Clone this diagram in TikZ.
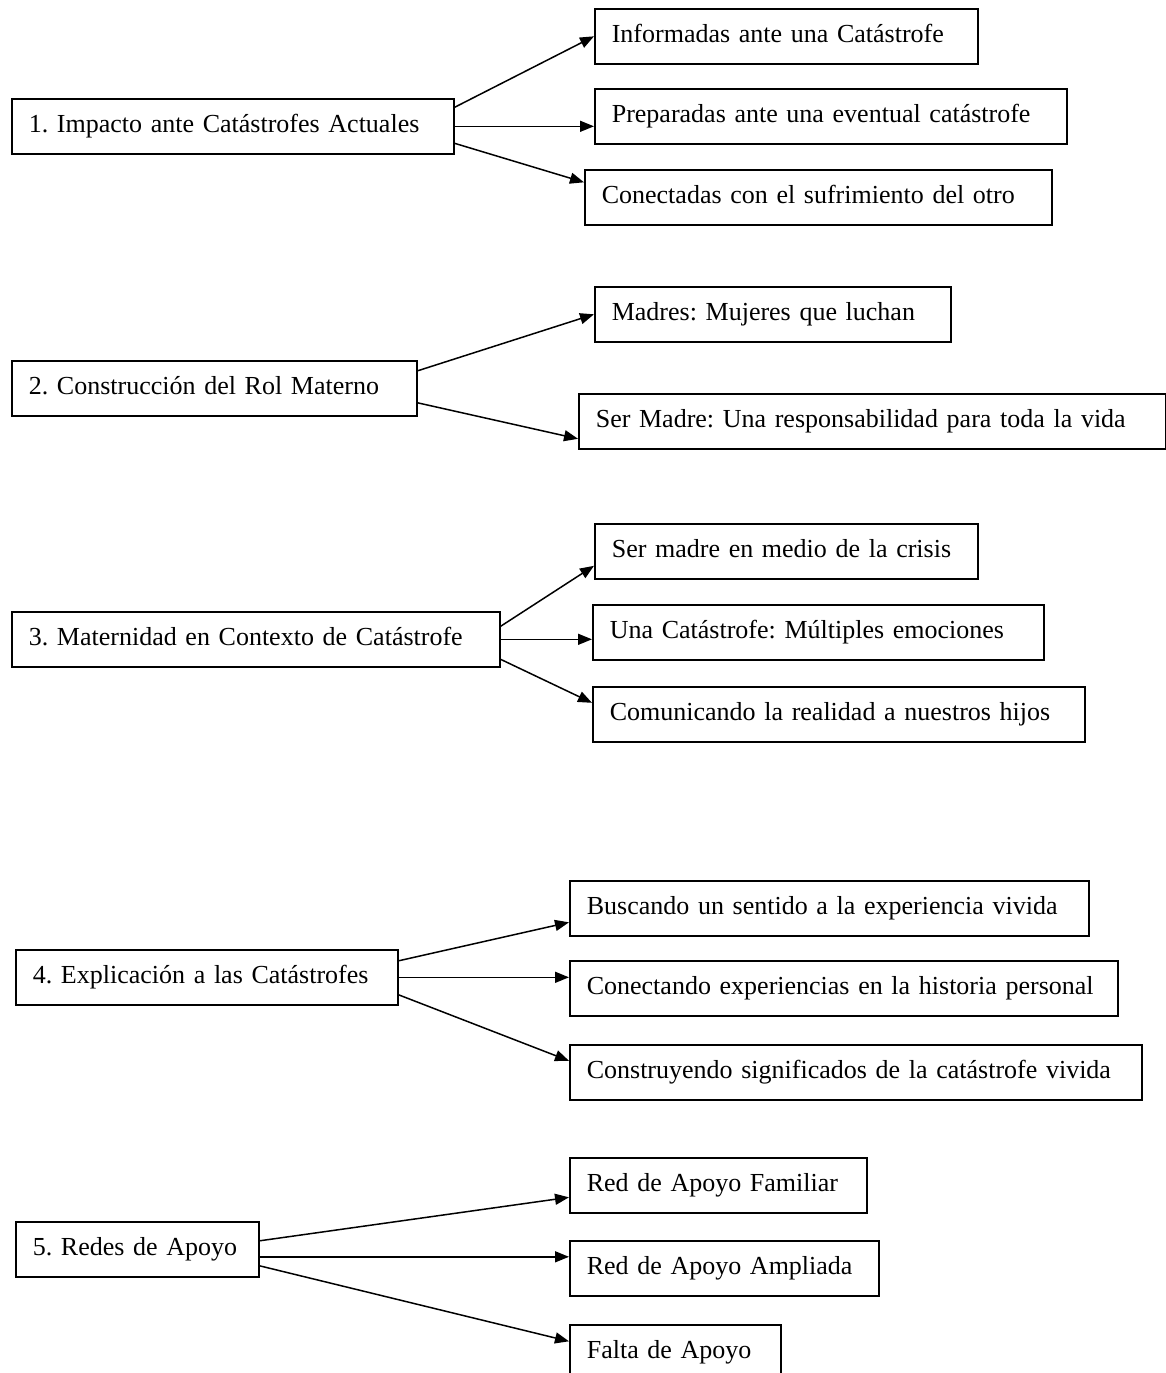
\documentclass[tikz,border=0pt]{standalone}
\usepackage{fontspec}
\setmainfont{Liberation Serif}
\usetikzlibrary{arrows.meta}
\frenchspacing

\begin{document}
\begin{tikzpicture}[
        x=0.5pt, y=-0.5pt,
        >={Triangle[length=7pt,width=5.5pt]},
        tema/.style={
            % The shape
            rectangle,
            anchor = north west,
            minimum height = 27.5pt,
            inner xsep = 8.5pt,
            % The border
            line width = 0.8pt,
            draw = black,
            % The text
            align = left,
            text width = #1,
            text height = 9.5pt,
            text depth = 3pt,
            font = \fontsize{13}{15}\selectfont
        },
        every edge/.style={
            draw,
            line width = 0.75pt
        }
    ]
        \useasboundingbox (0,0) rectangle (1166,1373);

        % 1
        \node (impacto) [tema=204pt] at (11,98) {1. Impacto ante Catástrofes Actuales};
        \node (informadas) [tema=174.5pt] at (594,8) {Informadas ante una Catástrofe};
        \node (preparadas) [tema=219pt] at (594,88) {Preparadas ante una eventual catástrofe};
        \node (conectadas) [tema=216.5pt] at (584,169) {Conectadas con el sufrimiento del otro};
        \path ([yshift=9.5pt]impacto.east) edge[->] (informadas.west);
        \path (impacto.east) edge[->] (impacto.east -| preparadas.west);
        \path ([yshift=-8.5pt]impacto.east) edge[->] ([yshift=7.5pt]conectadas.west);

        % 2
        \node (rolMaterno) [tema=185.5pt] at (11,360) {2. Construcción del Rol Materno};
        \node (madres) [tema=161pt] at (594,286) {Madres: Mujeres que luchan};
        \node (serMadre) [tema=276.5pt] at (578,393) {Ser Madre: Una responsabilidad para toda la vida};
        \path ([yshift=8.75pt]rolMaterno.east) edge[->] (madres.west);
        \path ([yshift=-7.25pt]rolMaterno.east) edge[->] ([yshift=-8.75pt]serMadre.west);

        % 3
        \node (maternidad) [tema=227pt] at (11,611) {3. Maternidad en Contexto de Catástrofe};
        \node (crisis) [tema=174.5pt] at (594,523) {Ser madre en medio de la crisis};
        \node (emociones) [tema=208.5pt] at (592,604) {Una Catástrofe: Múltiples emociones};
        \node (hijos) [tema=229pt] at (592,686) {Comunicando la realidad a nuestros hijos};
        \path ([yshift=6.5pt]maternidad.east) edge[->] ([yshift=-7.25pt]crisis.west);
        \path (maternidad.east) edge[->] (maternidad.east -| emociones.west);
        \path ([yshift=-10pt]maternidad.east) edge[->] ([yshift=5.75pt]hijos.west);

        % 4
        \node (explicacion) [tema=174pt] at (15,949) {4. Explicación a las Catástrofes};
        \node (sentido) [tema=242.5pt] at (569,880) {Buscando un sentido a la experiencia vivida};
        \node (historia) [tema=257pt] at (569,960) {Conectando experiencias en la historia personal};
        \node (significados) [tema=269pt] at (569,1044) {Construyendo significados de la catástrofe vivida};
        \path ([yshift=8.25pt]explicacion.east) edge[->] ([yshift=-7pt]sentido.west);
        \path (explicacion.east) edge[->] (explicacion.east -| historia.west);
        \path ([yshift=-8.75pt]explicacion.east) edge[->] ([yshift=5.75pt]significados.west);

        % 5
        \node (redes) [tema=104.5pt] at (15,1221) {5. Redes de Apoyo};
        \node (familiar) [tema=131.5pt] at (569,1157) {Red de Apoyo Familiar};
        \node (ampliada) [tema=137.5pt] at (569,1240) {Red de Apoyo Ampliada};
        \node (falta) [tema=88.5pt] at (569,1324) {Falta de Apoyo};
        \path ([yshift=4.25pt]redes.east) edge[->] ([yshift=-6pt]familiar.west);
        \path ([yshift=-3.75pt]redes.east) edge[->] ([yshift=-3.75pt]redes.east -| ampliada.west);
        \path ([yshift=-8.25pt]redes.east) edge[->] ([yshift=5.5pt]falta.west);

    \end{tikzpicture}
\end{document}
